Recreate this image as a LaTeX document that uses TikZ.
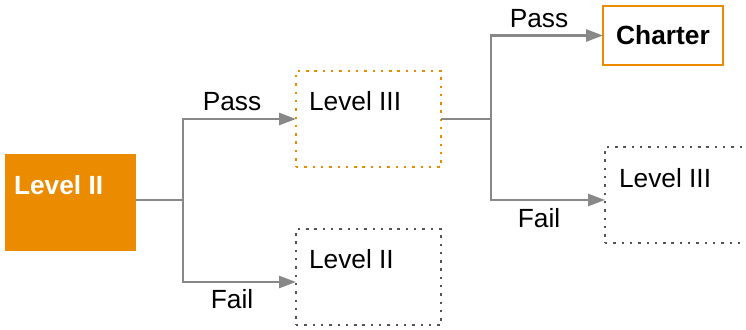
\documentclass[tikz,border=0pt]{standalone}
\usepackage{fontspec}
\setmainfont{Liberation Sans}
\usetikzlibrary{arrows.meta}
\definecolor{orng}{RGB}{234,139,0}
\definecolor{conn}{RGB}{136,136,136}
\definecolor{dotg}{RGB}{85,85,85}
\begin{document}
\begin{tikzpicture}[x=1pt,y=-1pt,
  every node/.style={font=\fontsize{26.3}{30}\selectfont, inner sep=0pt, outer sep=0pt},
  boxbase/.style={rectangle, anchor=north west, minimum width=145pt, minimum height=96pt},
  dotbox/.style={boxbase, draw=#1, line width=2.4pt, dash pattern=on 2.4pt off 5.9pt},
  solidbox/.style={rectangle, anchor=north west, fill=orng, minimum width=131pt, minimum height=97pt},
  chbox/.style={rectangle, draw=orng, line width=2.5pt, minimum width=120pt, minimum height=59pt, font=\fontsize{26.3}{30}\selectfont\bfseries},
  boxtext/.style={anchor=base west},
  lbl/.style={anchor=base},
  connline/.style={draw=conn, line width=2.5pt},
  arr/.style={connline, -{Triangle[length=17pt,width=12pt]}}
]
\useasboundingbox (0,0) rectangle (746,329);

% boxes
\node[solidbox] (l2) at (5,154) {};
\node[boxtext, text=white, font=\fontsize{26.3}{30}\selectfont\bfseries] (l2t) at (14,194) {Level II};

\node[dotbox=orng] (l3a) at (296,71) {};
\node[boxtext] (l3at) at (309,110) {Level III};

\node[dotbox=dotg] (l2b) at (296,229) {};
\node[boxtext] (l2bt) at (309,268) {Level II};

\node[chbox] (ch) at (663,35.5) {Charter};

\node[dotbox=dotg] (l3b) at (605,147) {};
\node[boxtext] (l3bt) at (619,187) {Level III};

% connectors
\draw[connline] ([yshift=2.5pt]l2.east) -- ++(47,0) coordinate (j1);
\draw[arr] (j1) |- (l3a.west);
\draw[arr] (j1) |- ([yshift=-5pt]l2b.west);

\draw[connline] (l3a.east) -- ++(50,0) coordinate (j2);
\draw[arr] (j2) |- (ch.west);
\draw[arr] (j2) |- ([yshift=-5pt]l3b.west);

% labels
\node[lbl] (p1) at (232,110) {Pass};
\node[lbl] (f1) at (232,308) {Fail};
\node[lbl] (p2) at (539,28) {Pass};
\node[lbl] (f2) at (539,227) {Fail};
\end{tikzpicture}
\end{document}
